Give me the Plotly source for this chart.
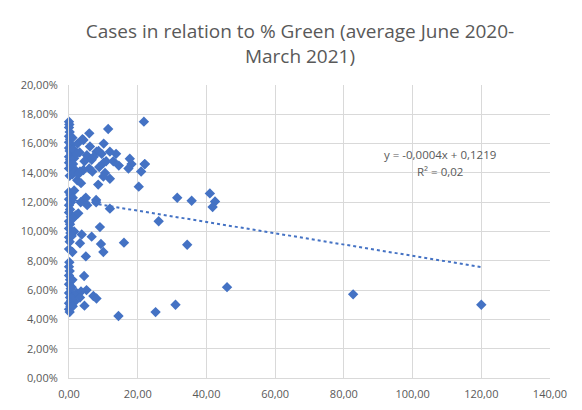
import plotly.graph_objects as go

# Data: x = % Green (average), y = cases share
green_pct = [
    0.0, 0.1, 0.0, 0.2, 0.0, 0.3, 0.0, 0.5, 0.0, 0.2, 0.6, 0.0, 0.3, 0.0, 0.5, 0.0, 0.2,
    0.0, 0.4, 0.0, 0.6, 0.0, 0.3, 0.0, 0.5, 0.0, 0.3, 0.0, 0.4, 0.0, 0.2, 0.0,
    0.1, 0.0, 0.2, 0.0, 0.3, 0.0, 0.5, 0.0, 0.3, 0.6, 0.0, 0.4, 0.0, 0.2,
    1.0, 1.3, 1.5, 1.2, 1.8, 1.0, 2.4, 1.5, 1.1, 1.9, 2.7, 1.2, 1.5, 0.8, 1.0,
    1.0, 0.8, 1.4, 1.6, 1.1, 2.2, 1.3, 2.5, 2.2,
    3.9, 4.2, 5.9, 11.4, 10.1, 6.1, 8.0, 8.6, 11.9, 13.7, 5.2, 3.1, 6.6, 10.1, 10.8,
    12.9, 14.5, 17.7, 18.2, 17.3, 22.1, 21.0, 8.8, 5.9, 4.2, 3.2, 2.7, 10.5, 11.9,
    10.0, 8.5, 20.3, 7.2, 9.5, 4.5, 6.8, 3.5, 21.8, 22.0,
    4.9, 4.5, 7.9, 7.9, 5.3, 11.9, 3.4, 31.5, 35.7, 41.0, 42.5, 41.8, 26.1,
    9.0, 3.7, 6.6, 3.2, 9.3, 16.0, 34.4, 10.0, 4.9, 4.4, 5.1, 3.5, 3.2, 7.1, 8.0,
    4.5, 14.4, 25.2, 31.0, 46.0, 82.7, 120.0,
]
cases_share = [
    0.175, 0.173, 0.171, 0.168, 0.165, 0.163, 0.161, 0.159, 0.157, 0.155, 0.153, 0.151, 0.149, 0.147, 0.145, 0.143, 0.138,
    0.127, 0.125, 0.122, 0.120, 0.118, 0.115, 0.113, 0.110, 0.107, 0.105, 0.102, 0.099, 0.096, 0.093, 0.088,
    0.079, 0.076, 0.073, 0.070, 0.067, 0.064, 0.061, 0.058, 0.055, 0.053, 0.051, 0.049, 0.047, 0.045,
    0.164, 0.156, 0.150, 0.146, 0.142, 0.139, 0.135, 0.128, 0.123, 0.111, 0.1124, 0.109, 0.100, 0.097, 0.086,
    0.067, 0.062, 0.056, 0.052, 0.049, 0.058, 0.140, 0.160, 0.153,
    0.163, 0.1625, 0.167, 0.170, 0.160, 0.158, 0.1545, 0.155, 0.1545, 0.153, 0.152, 0.154, 0.149, 0.147, 0.148,
    0.148, 0.145, 0.1497, 0.146, 0.143, 0.146, 0.141, 0.144, 0.143, 0.142, 0.141, 0.139, 0.140, 0.136,
    0.1375, 0.132, 0.1306, 0.151, 0.153, 0.148, 0.141, 0.133, 0.175, 0.146,
    0.123, 0.122, 0.1215, 0.120, 0.118, 0.1156, 0.120, 0.123, 0.121, 0.126, 0.1205, 0.1167, 0.107,
    0.103, 0.098, 0.0965, 0.092, 0.0915, 0.0924, 0.091, 0.086, 0.083, 0.0696, 0.060, 0.059, 0.055, 0.056, 0.0543,
    0.0494, 0.0423, 0.045, 0.050, 0.062, 0.0571, 0.050,
]

# Trendline as shown (Excel linear fit)
trend_slope = -0.000385
trend_intercept = 0.1219
trend_x = [0.0, 120.0]
trend_y = [trend_intercept + trend_slope * v for v in trend_x]

x_ticks = [0, 20, 40, 60, 80, 100, 120, 140]
y_ticks = [0, 0.02, 0.04, 0.06, 0.08, 0.10, 0.12, 0.14, 0.16, 0.18, 0.20]

blue = "#4472C4"
grid = "#D9D9D9"
txt = "#595959"

fig = go.Figure()
fig.add_trace(go.Scatter(
    x=green_pct, y=cases_share, mode="markers",
    marker=dict(symbol="diamond", size=8, color=blue, line=dict(width=0)),
    showlegend=False, hoverinfo="skip", cliponaxis=False,
))
fig.add_trace(go.Scatter(
    x=trend_x, y=trend_y, mode="lines",
    line=dict(color=blue, width=2, dash="dot"),
    showlegend=False, hoverinfo="skip",
))

# page has an 8px body margin, so the figure is sized/placed to compensate
W, H = 574, 402
ml, mr, mt, mb = 61, 32, 77, 32

fig.update_layout(
    width=W, height=H,
    margin=dict(l=ml, r=mr, t=mt, b=mb, autoexpand=False),
    paper_bgcolor="white", plot_bgcolor="white",
    separators=",.",
    font=dict(family="Open Sans, Liberation Sans, sans-serif", color=txt, size=11),
    title=dict(
        text="Cases in relation to % Green (average June 2020-<br>March 2021)",
        x=292 / W, xanchor="center", xref="container",
        y=1 - 30 / H, yanchor="top", yref="container",
        font=dict(size=19, color=txt, family="Open Sans, sans-serif"),
        automargin=False,
    ),
    xaxis=dict(
        range=[0, 140], tickvals=x_ticks, tickformat=".2f",
        showgrid=True, gridcolor=grid, gridwidth=1,
        zeroline=False, showline=True, linecolor=grid, linewidth=1,
        ticks="", ticklabelstandoff=6, fixedrange=True, automargin=False,
        tickfont=dict(size=11, color=txt),
    ),
    yaxis=dict(
        range=[0, 0.20], tickvals=y_ticks, tickformat=".2%",
        showgrid=True, gridcolor=grid, gridwidth=1,
        zeroline=False, showline=True, linecolor=grid, linewidth=1,
        ticks="", ticklabelstandoff=8, fixedrange=True, automargin=False,
        tickfont=dict(size=11, color=txt),
    ),
    annotations=[
        dict(text="y = -0,0004x + 0,1219", xref="x", yref="y",
             x=108, y=0.1525, showarrow=False, xanchor="center", yanchor="middle",
             font=dict(size=11.5, color=txt)),
        dict(text="R² = 0,02", xref="x", yref="y",
             x=108, y=0.1412, showarrow=False, xanchor="center", yanchor="middle",
             font=dict(size=11.5, color=txt)),
    ],
)

fig.write_html("out.html")
